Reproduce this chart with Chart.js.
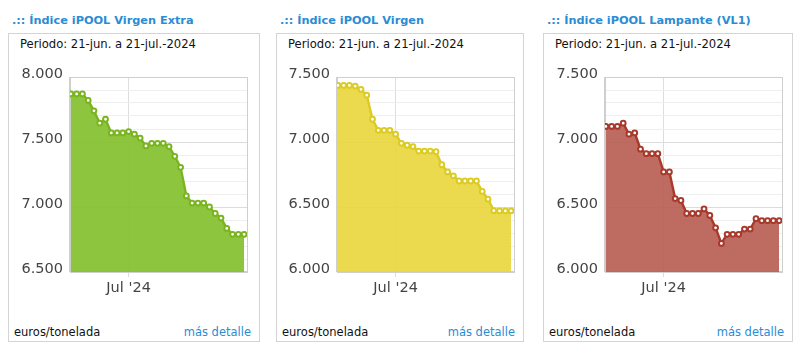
<!DOCTYPE html>
<html>
<head>
<meta charset="utf-8">
<script src="https://cdn.jsdelivr.net/npm/chart.js@4"></script>
<style>
  html, body { margin:0; padding:0; background:#fff; }
  body { width:800px; height:353px; position:relative; overflow:hidden; font-family:"DejaVu Sans", Verdana, sans-serif; }
  .box { position:absolute; top:33px; height:309px; border:1px solid #d4d4d4; box-sizing:border-box; }
  .title { position:absolute; top:13px; line-height:15px; font-size:11.3px; font-weight:bold; color:#2b8cd4; white-space:nowrap; }
  .period { position:absolute; top:37px; line-height:14px; font-size:11.6px; color:#111; white-space:nowrap; }
  .unit { position:absolute; top:325px; line-height:14px; font-size:11.5px; color:#111; white-space:nowrap; }
  .more { position:absolute; top:325px; line-height:14px; font-size:11.5px; color:#2b8cd4; white-space:nowrap; text-align:right; }
  canvas { position:absolute; }
</style>
</head>
<body>
<script>
// ---- data ----
const categories = ['2024-06-21','2024-06-22','2024-06-23','2024-06-24','2024-06-25','2024-06-26','2024-06-27','2024-06-28','2024-06-29','2024-06-30',
  '2024-07-01','2024-07-02','2024-07-03','2024-07-04','2024-07-05','2024-07-06','2024-07-07','2024-07-08','2024-07-09','2024-07-10',
  '2024-07-11','2024-07-12','2024-07-13','2024-07-14','2024-07-15','2024-07-16','2024-07-17','2024-07-18','2024-07-19','2024-07-20','2024-07-21'];
const virgenExtra = [7870,7870,7870,7820,7740,7645,7675,7570,7570,7570,7580,7560,7530,7470,7490,7490,7490,7465,7390,7305,7085,7030,7030,7030,7000,6950,6915,6835,6790,6790,6790];
const virgen      = [7435,7435,7435,7430,7405,7360,7175,7090,7090,7090,7060,6990,6975,6965,6930,6930,6930,6925,6825,6770,6740,6700,6700,6700,6700,6620,6560,6472,6470,6470,6470];
const lampante    = [7120,7120,7120,7145,7060,7070,6945,6910,6910,6910,6770,6770,6565,6550,6450,6450,6450,6485,6435,6340,6220,6290,6290,6290,6330,6330,6410,6395,6395,6395,6395];
const xTickDates  = ['2024-07-01'];
const xTickLabels = ["Jul '24"];
const yTicksExtra = [6500,7000,7500,8000];
const yLabelsExtra = ['6.500','7.000','7.500','8.000'];
const yTicksOther = [6000,6500,7000,7500];
const yLabelsOther = ['6.000','6.500','7.000','7.500'];
const titles = ['.:: Índice iPOOL Virgen Extra', '.:: Índice iPOOL Virgen', '.:: Índice iPOOL Lampante (VL1)'];
const periodText = 'Periodo: 21-jun. a 21-jul.-2024';
const unitText = 'euros/tonelada';
const moreText = 'más detalle';

// ---- layout / style ----
const panels = [
  { box:[8,260], plotLeft:70, values:virgenExtra, yTicks:yTicksExtra, yLabels:yLabelsExtra,
    line:'#7ab51f', fill:'rgba(131,192,46,0.92)' },
  { box:[276,524], plotLeft:337, values:virgen, yTicks:yTicksOther, yLabels:yLabelsOther,
    line:'#dccb22', fill:'rgba(233,214,58,0.9)' },
  { box:[543,793], plotLeft:605, values:lampante, yTicks:yTicksOther, yLabels:yLabelsOther,
    line:'#a8392b', fill:'rgba(183,92,80,0.9)' }
];
const PLOT_W = 177, PLOT_TOP = 77, PLOT_BOTTOM = 272;

const framePlugin = {
  id:'frame',
  beforeDatasetsDraw(chart){
    const a = chart.chartArea, c = chart.ctx;
    c.save(); c.strokeStyle = '#cfcfcf'; c.lineWidth = 1;
    c.strokeRect(Math.round(a.left)-0.5, Math.round(a.top)+0.5, Math.round(a.right-a.left)+1, Math.round(a.bottom-a.top)-1);
    c.restore();
  }
};

panels.forEach((p, k) => {
  const add = (cls, text, left) => {
    const d = document.createElement('div'); d.className = cls; d.textContent = text;
    d.style.left = left + 'px';
    document.body.appendChild(d); return d;
  };
  const box = document.createElement('div'); box.className = 'box';
  box.style.left = p.box[0] + 'px'; box.style.width = (p.box[1]-p.box[0]) + 'px';
  document.body.appendChild(box);
  add('title', titles[k], p.box[0]+4);
  add('period', periodText, p.box[0]+12);
  add('unit', unitText, p.box[0]+6);
  const m = add('more', moreText, 0); m.style.left = 'auto'; m.style.right = (800 - (p.box[1]-9)) + 'px';

  const cLeft = p.plotLeft - 60, cTop = PLOT_TOP - 22, cW = 60 + PLOT_W + 8, cH = (PLOT_BOTTOM - PLOT_TOP) + 22 + 33;
  const cv = document.createElement('canvas');
  cv.style.left = cLeft + 'px'; cv.style.top = cTop + 'px';
  cv.style.width = cW + 'px'; cv.style.height = cH + 'px';
  cv.width = cW; cv.height = cH;
  document.body.appendChild(cv);

  const pts = p.values.map((v, i) => ({ x:i, y:v }));
  const yMin = p.yTicks[0], yMax = p.yTicks[p.yTicks.length-1];
  const xTickIdx = xTickDates.map(d => categories.indexOf(d));

  new Chart(cv, {
    type:'line',
    data:{ datasets:[{
      data:pts, borderColor:p.line, borderWidth:2.4, backgroundColor:p.fill, fill:'start',
      pointRadius:2.4, pointBorderWidth:2, pointBackgroundColor:'#ffffff', pointBorderColor:p.line,
      tension:0
    }]},
    options:{
      responsive:false, animation:false, devicePixelRatio:1,
      layout:{ padding:{ left:0, top:22, right:8, bottom:0 } },
      plugins:{ legend:{display:false}, tooltip:{enabled:false} },
      scales:{
        x:{ type:'linear', min:-0.15, max:categories.length-1+0.5,
          afterBuildTicks(s){ s.ticks = xTickIdx.map(i => ({ value:i })); },
          afterFit(s){ s.height = 33; },
          ticks:{ autoSkip:false, maxRotation:0, padding:3, color:'#444',
            font:{ family:'DejaVu Sans', size:14.5 },
            callback(v){ const j = xTickIdx.indexOf(v); return j >= 0 ? xTickLabels[j] : ''; } },
          grid:{ color:'#dedede', drawTicks:true, tickLength:5 },
          border:{ display:true, color:'#cfcfcf' }
        },
        y:{ min:yMin, max:yMax,
          afterBuildTicks(s){
            const t = []; for (let v = yMin; v <= yMax; v += 100) t.push({ value:v }); s.ticks = t; },
          afterFit(s){ s.width = 60; },
          ticks:{ autoSkip:false, padding:7, labelOffset:-3, color:'#444',
            font:{ family:'DejaVu Sans', size:14.5 },
            callback(v){ const j = p.yTicks.indexOf(v); return j >= 0 ? p.yLabels[j] : ''; } },
          grid:{ drawTicks:false, color(ctx){ const v = ctx.tick && ctx.tick.value; return (p.yTicks.indexOf(v) >= 0) ? '#dcdcdc' : '#efefef'; } },
          border:{ display:true, color:'#cfcfcf' }
        }
      }
    },
    plugins:[framePlugin]
  });
});
</script>
</body>
</html>
